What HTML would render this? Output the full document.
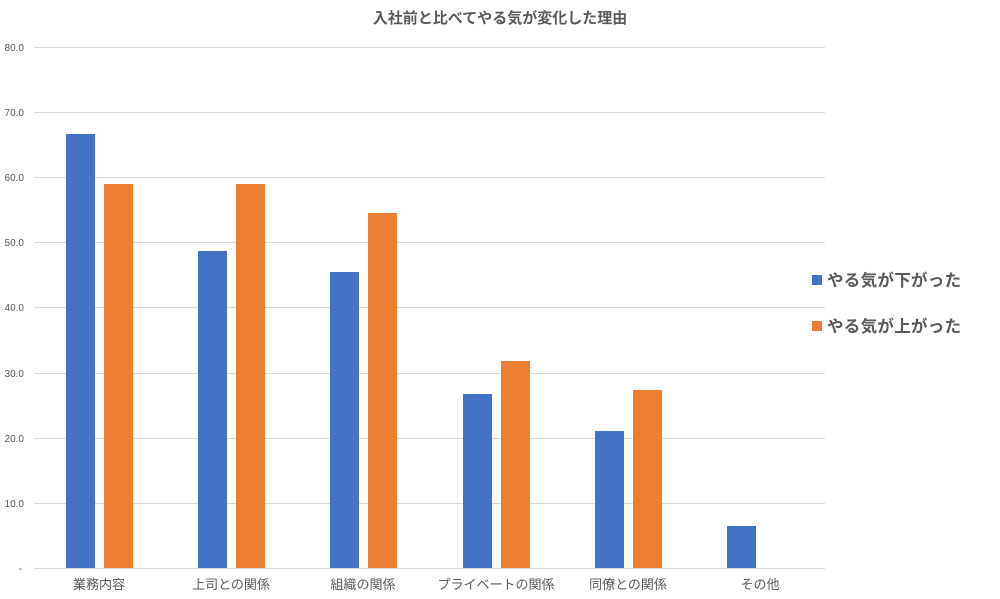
<!DOCTYPE html>
<html><head><meta charset="utf-8"><style>
body{margin:0;background:#fff;}
svg{display:block;font-family:"Liberation Sans","Noto Sans CJK JP",sans-serif;}
</style></head><body>
<svg width="1000" height="599" viewBox="0 0 1000 599">
<text x="500" y="23" text-anchor="middle" font-size="15" font-weight="bold" fill="#595959">入社前と比べてやる気が変化した理由</text>
<g stroke="#d9d9d9" stroke-width="1">
<line x1="34" x2="825" y1="47.5" y2="47.5"/><line x1="34" x2="825" y1="112.5" y2="112.5"/>
<line x1="34" x2="825" y1="177.5" y2="177.5"/><line x1="34" x2="825" y1="242.5" y2="242.5"/>
<line x1="34" x2="825" y1="307.5" y2="307.5"/><line x1="34" x2="825" y1="373.5" y2="373.5"/>
<line x1="34" x2="825" y1="438.5" y2="438.5"/><line x1="34" x2="825" y1="503.5" y2="503.5"/>
<line x1="34" x2="825" y1="568.5" y2="568.5"/>
</g>
<g font-size="10" fill="#595959" text-anchor="end">
<text x="24" y="51">80.0</text><text x="24" y="116">70.0</text><text x="24" y="181">60.0</text>
<text x="24" y="246">50.0</text><text x="24" y="311">40.0</text><text x="24" y="377">30.0</text>
<text x="24" y="442">20.0</text><text x="24" y="507">10.0</text><text x="22" y="572">-</text>
</g>
<g fill="#4472c4">
<rect x="66" y="134" width="29" height="434"/>
<rect x="198" y="251" width="29" height="317"/>
<rect x="330" y="272" width="29" height="296"/>
<rect x="463" y="394" width="29" height="174"/>
<rect x="595" y="431" width="29" height="137"/>
<rect x="727" y="526" width="29" height="42"/>
</g>
<g fill="#ed7d31">
<rect x="104" y="184" width="29" height="384"/>
<rect x="236" y="184" width="29" height="384"/>
<rect x="368" y="213" width="29" height="355"/>
<rect x="501" y="361" width="29" height="207"/>
<rect x="633" y="390" width="29" height="178"/>
</g>
<g font-size="13" fill="#595959" text-anchor="middle">
<text x="99" y="589">業務内容</text><text x="231" y="589">上司との関係</text>
<text x="363" y="589">組織の関係</text><text x="496" y="589">プライベートの関係</text>
<text x="628" y="589">同僚との関係</text><text x="760" y="589">その他</text>
</g>
<rect x="812" y="275" width="10" height="10" fill="#4472c4"/>
<text x="827" y="286" font-size="16.5" font-weight="bold" fill="#595959" letter-spacing="0.3">やる気が下がった</text>
<rect x="812" y="321" width="10" height="10" fill="#ed7d31"/>
<text x="827" y="332" font-size="16.5" font-weight="bold" fill="#595959" letter-spacing="0.3">やる気が上がった</text>
</svg>
</body></html>
